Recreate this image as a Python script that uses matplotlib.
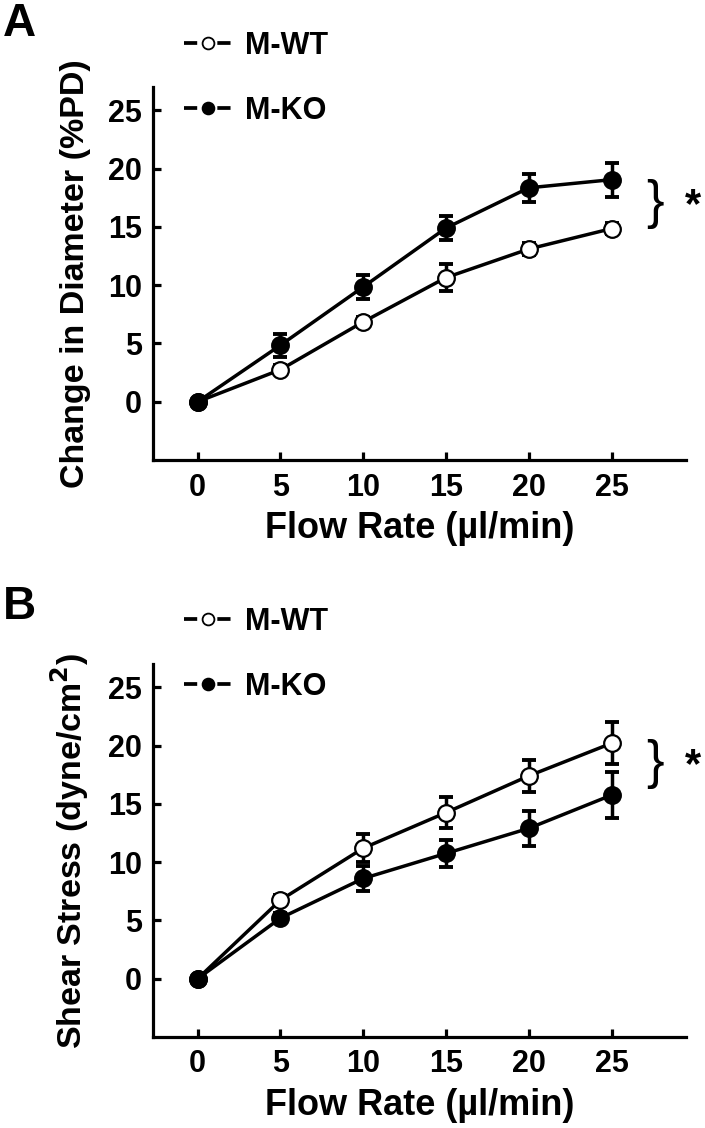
"""Flow-induced dilation and shear stress in M-WT vs M-KO arteries."""

import matplotlib

matplotlib.use("Agg")
import matplotlib.pyplot as plt
from matplotlib.lines import Line2D

plt.rcParams["font.family"] = ["Liberation Sans", "DejaVu Sans"]
plt.rcParams["font.weight"] = "bold"

flow = [0, 5, 10, 15, 20, 25]
groups = ["M-WT", "M-KO"]

# panel A: change in diameter (%PD)
dia_wt = [0.0, 2.75, 6.85, 10.65, 13.1, 14.85]
dia_wt_err = [0.0, 0.4, 0.4, 1.15, 0.5, 0.5]
dia_ko = [0.0, 4.85, 9.85, 14.9, 18.35, 19.05]
dia_ko_err = [0.0, 1.0, 1.05, 1.0, 1.2, 1.45]

# panel B: shear stress (dyne/cm2)
ss_wt = [0.0, 6.75, 11.2, 14.25, 17.4, 20.2]
ss_wt_err = [0.0, 0.4, 1.2, 1.3, 1.4, 1.8]
ss_ko = [0.0, 5.2, 8.6, 10.75, 12.9, 15.75]
ss_ko_err = [0.0, 0.4, 1.05, 1.15, 1.5, 2.0]

yticks = [0, 5, 10, 15, 20, 25]

W, H = 705, 1128
fig = plt.figure(figsize=(W / 100, H / 100), dpi=100)
LW = 2.5


def px_axes(left, top, right, bottom):
    return fig.add_axes([left / W, 1 - bottom / H, (right - left) / W, (bottom - top) / H])


def legend_handle(face):
    # dash - marker - dash, with gaps either side of the marker
    return Line2D([], [], color="black", lw=2.7, dashes=(9.5 / 2.7, 14.5 / 2.7),
                  marker="o", ms=8.5, mfc=face, mec="black", mew=1.3)


def draw_panel(ax, wt, wt_err, ko, ko_err, ylabel, brace_y, star_y):
    for vals, errs, face in [(wt, wt_err, "white"), (ko, ko_err, "black")]:
        ax.errorbar(flow, vals, yerr=errs, fmt="none", ecolor="black",
                    elinewidth=LW, capsize=5, capthick=2.8, zorder=2)
        ax.plot(flow, vals, color="black", lw=LW, marker="o", ms=12,
                mfc=face, mec="black", mew=1.6, zorder=3)
    ax.set_xlim(-2.7, 29.5)
    ax.set_ylim(-5, 27)
    ax.set_xticks(flow)
    ax.set_yticks(yticks)
    for side in ["top", "right"]:
        ax.spines[side].set_visible(False)
    for side in ["left", "bottom"]:
        ax.spines[side].set_linewidth(2.3)
    ax.tick_params(direction="in", length=5.5, width=2.3, labelsize=22)
    ax.tick_params(axis="x", pad=9)
    ax.tick_params(axis="y", pad=8)
    ax.set_xlabel("Flow Rate (µl/min)", fontsize=26, fontweight="bold", labelpad=6)
    ax.set_ylabel(ylabel, fontsize=24.5, fontweight="bold", labelpad=12)
    ax.text(27.6, brace_y, "}", fontsize=38, fontweight="normal",
            ha="center", va="center", clip_on=False)
    ax.text(29.9, star_y, "*", fontsize=30, fontweight="bold",
            ha="center", va="center", clip_on=False)
    return [legend_handle("white"), legend_handle("black")]


ax_a = px_axes(153, 87, 686, 460)
h = draw_panel(ax_a, dia_wt, dia_wt_err, dia_ko, dia_ko_err,
               "Change in Diameter (%PD)", 17.0, 16.8)
fig.legend(h, groups, loc="upper left", bbox_to_anchor=(184 / W, 1 - 31 / H),
           frameon=False, handlelength=1.55, handletextpad=0.45,
           labelspacing=1.15, borderpad=0, borderaxespad=0,
           prop={"weight": "bold", "size": 22})

ax_b = px_axes(153, 664, 686, 1037)
h = draw_panel(ax_b, ss_wt, ss_wt_err, ss_ko, ss_ko_err,
               "Shear Stress (dyne/cm$^\\mathbf{2}$)", 18.4, 18.2)
fig.legend(h, groups, loc="upper left", bbox_to_anchor=(184 / W, 1 - 607 / H),
           frameon=False, handlelength=1.55, handletextpad=0.45,
           labelspacing=1.15, borderpad=0, borderaxespad=0,
           prop={"weight": "bold", "size": 22})

fig.text(3 / W, 1 - 2 / H, "A", fontsize=33, fontweight="bold", va="top", ha="left")
fig.text(3 / W, 1 - 585 / H, "B", fontsize=33, fontweight="bold", va="top", ha="left")

fig.savefig("out.png", dpi=100)
